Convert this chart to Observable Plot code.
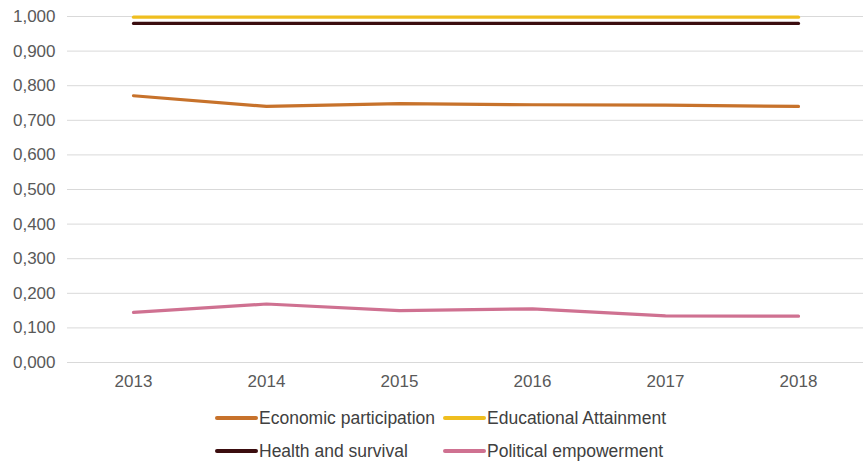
<!DOCTYPE html>
<html>
<head>
<meta charset="utf-8">
<script src="https://cdn.jsdelivr.net/npm/d3@7"></script>
<script src="https://cdn.jsdelivr.net/npm/@observablehq/plot@0.6"></script>
<style>
  body { margin: 0; background: #fff; font-family: "Liberation Sans", Arial, sans-serif; }
  #legend { display: grid; grid-template-columns: 228px auto; margin-left: 215px; margin-top: 17px; row-gap: 11px; font-size: 17.5px; color: #404040; }
  .item { display: flex; align-items: center; height: 22px; }
  .sw { width: 43px; height: 4px; margin-right: 1px; border-radius: 2px; }
</style>
</head>
<body>
<div id="chart"></div>
<div id="legend"></div>
<script>
const years = ["2013", "2014", "2015", "2016", "2017", "2018"];
const seriesNames = ["Economic participation", "Educational Attainment", "Health and survival", "Political empowerment"];
const economic = [0.771, 0.740, 0.748, 0.745, 0.744, 0.740];
const educational = [0.998, 0.998, 0.998, 0.998, 0.998, 0.998];
const health = [0.980, 0.980, 0.980, 0.980, 0.980, 0.980];
const political = [0.145, 0.169, 0.150, 0.155, 0.135, 0.134];
const colors = ["#c7722b", "#efbe1f", "#3b0d0f", "#cf7191"];
const yTicks = [0, 0.1, 0.2, 0.3, 0.4, 0.5, 0.6, 0.7, 0.8, 0.9, 1.0];

const allSeries = [economic, educational, health, political];
const data = [];
seriesNames.forEach((s, i) => years.forEach((y, j) => data.push({series: s, year: y, value: allSeries[i][j]})));

const fmt = v => v.toFixed(3).replace(".", ",");

const chart = Plot.plot({
  width: 863,
  height: 390,
  marginLeft: 67,
  marginRight: 0,
  marginTop: 16,
  marginBottom: 28,
  style: {fontFamily: "'Liberation Sans', Arial, sans-serif", fontSize: "17px", color: "#595959", background: "#fff"},
  x: {type: "point", domain: years, padding: 0.48, label: null},
  y: {domain: [0, 1], label: null},
  color: {domain: seriesNames, range: colors},
  marks: [
    Plot.gridY(yTicks, {stroke: "#d9d9d9", strokeOpacity: 1, strokeWidth: 1}),
    Plot.axisY(yTicks, {tickSize: 0, tickPadding: 12, tickFormat: fmt, label: null, fill: "#595959"}),
    Plot.axisX({tickSize: 0, tickPadding: 12, label: null, fill: "#595959"}),
    Plot.line(data, {x: "year", y: "value", z: "series", stroke: "series", strokeWidth: 3.2, curve: "linear"})
  ]
});
document.getElementById("chart").appendChild(chart);

const legend = document.getElementById("legend");
seriesNames.forEach((s, i) => {
  const d = document.createElement("div");
  d.className = "item";
  d.innerHTML = `<span class="sw" style="background:${colors[i]}"></span><span>${s}</span>`;
  legend.appendChild(d);
});
</script>
</body>
</html>
